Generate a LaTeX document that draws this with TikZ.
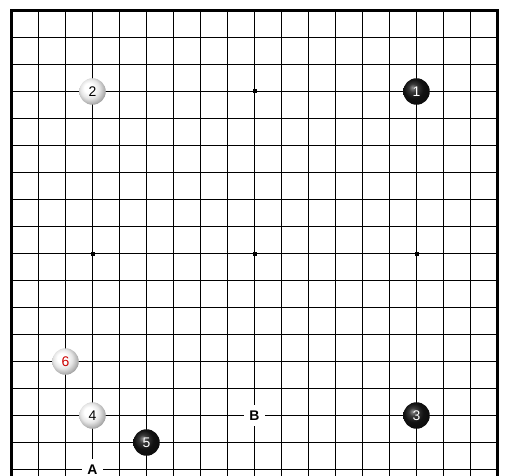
\documentclass[tikz,border=0pt]{standalone}
\usepackage{fontspec}
\setmainfont{Liberation Sans}
\pgfdeclareradialshading{bstoneshade}{\pgfpoint{-8bp}{8bp}}{color(0bp)=(black!45); color(8bp)=(black!78); color(18bp)=(black!93); color(50bp)=(black)}
\pgfdeclareradialshading{wstoneshade}{\pgfpoint{-8bp}{8bp}}{color(0bp)=(white); color(9bp)=(white); color(18bp)=(black!10); color(26bp)=(black!30); color(34bp)=(black!55); color(50bp)=(black!60)}
\begin{document}
\begin{tikzpicture}[x=1bp,y=-1bp,
  gridline/.style={line width=1bp,black},
  boardedge/.style={line width=2.2bp,black},
  starpt/.style={fill=black},
  stone/.style={circle,minimum size=26.5bp,inner sep=0pt,font=\fontsize{14}{14}\selectfont},
  bstone/.style={stone,shading=bstoneshade,text=white},
  wstone/.style={stone,shading=wstoneshade,text=black},
  lastmove/.style={text=red!80!black},
  boardlabel/.style={fill=white,minimum size=21bp,inner sep=0pt,font=\fontsize{14}{14}\selectfont\bfseries}]
\useasboundingbox (0,0) rectangle (510,476);
\fill[white] (0,0) rectangle (510,476);
\foreach \i in {1,...,17} \draw[gridline] (11.5+27*\i,10.5) -- (11.5+27*\i,477);
\foreach \j in {1,...,17} \draw[gridline] (11.5,10.5+27*\j) -- (497.5,10.5+27*\j);
\draw[boardedge] (11.5,478) -- (11.5,10.5) -- (497.5,10.5) -- (497.5,478);
\foreach \c/\r in {9/3,3/9,9/9,15/9}
  \fill[starpt] (11.5+27*\c-2,10.5+27*\r-2) rectangle (11.5+27*\c+2,10.5+27*\r+2);
\node[bstone] (s1) at (416.5,91.5) {1};
\node[wstone] (s2) at (92.5,91.5) {2};
\node[bstone] (s3) at (416.5,415.5) {3};
\node[wstone] (s4) at (92.5,415.5) {4};
\node[bstone] (s5) at (146.5,442.5) {5};
\node[wstone,lastmove] (s6) at (65.5,361.5) {6};
\node[boardlabel] (mA) at (92.5,469.5) {A};
\node[boardlabel] (mB) at (254.5,415.5) {B};
\end{tikzpicture}
\end{document}
